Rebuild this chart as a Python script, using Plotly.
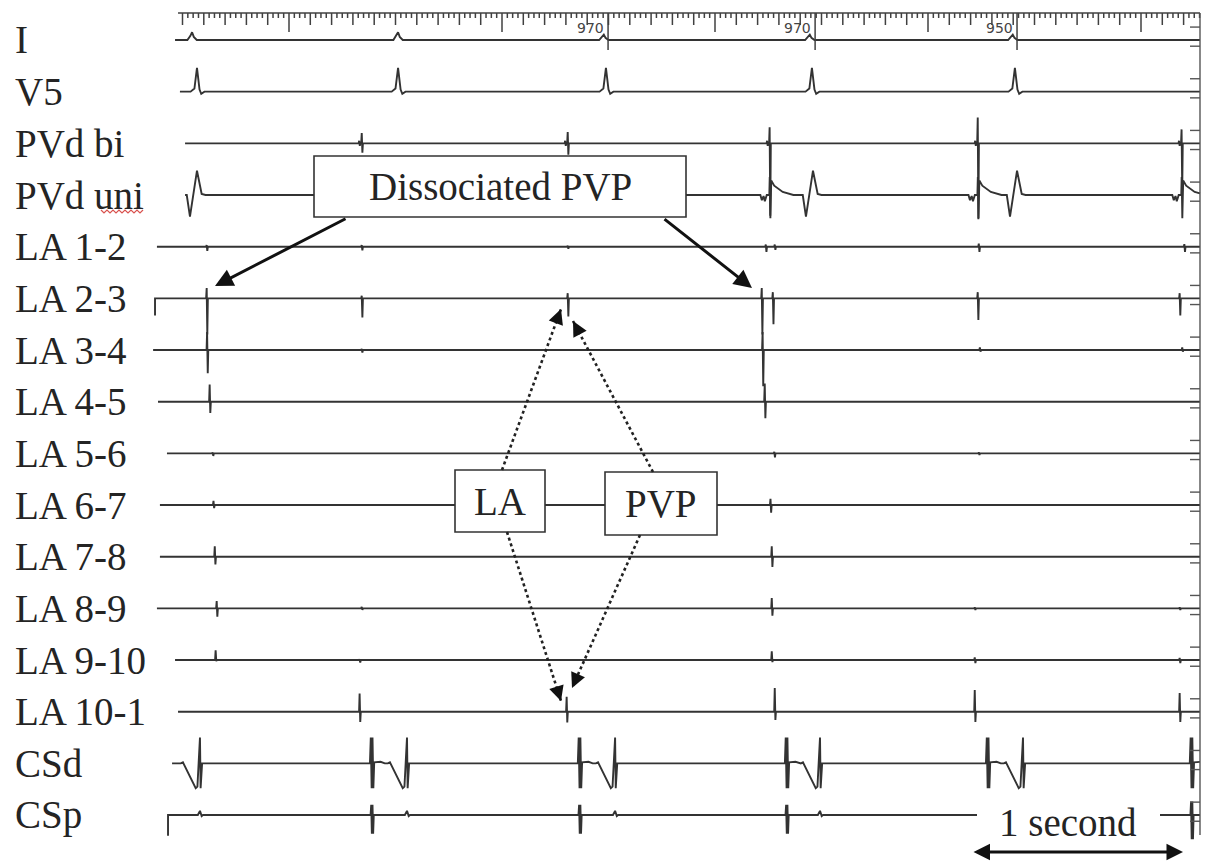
import numpy as np
import plotly.graph_objects as go

W, H = 1207, 864
PX0, PX_PER_MS = 76.0, 0.213          # horizontal scale: pixel = PX0 + PX_PER_MS * t(ms)
ROW_PX, ROW0_PX = 51.67, 40.0         # vertical scale: one channel row = 51.67 px

# ---------------- data ----------------
CHANNELS = ["I", "V5", "PVd bi", "PVd uni", "LA 1-2", "LA 2-3", "LA 3-4", "LA 4-5",
            "LA 5-6", "LA 6-7", "LA 7-8", "LA 8-9", "LA 9-10", "LA 10-1", "CSd", "CSp"]
TRACE_START_MS = [465, 488, 512, 512, 380, 371, 362, 385, 427, 394, 394, 380, 465, 479, 451, 432]
START_HOOK = [0, 0, 0, 0, 0, -0.33, 0, 0, 0, 0, 0, 0, 0, 0, 0, -0.4]
TRACE_END_MS = 5277

# waveform shapes: (ms offset, amplitude in channel rows)
SHAPES = {
    "bumpI": [(-22, 0), (-8, 0.08), (0, 0.15), (8, 0.06), (22, 0)],
    "qrs": [(-30, 0), (-12, 0.06), (0, 0.46), (12, 0.04), (20, -0.04), (35, 0)],
    "vuni": [(-48, 0), (-33, -0.42), (0, 0.47), (22, 0.02), (40, 0)],
    "pvp": [(-45, 0), (-38, -0.1), (-30, -0.02), (-24, -0.12), (-15, 0), (-3, 0), (-1, 0.35),
            (2, -0.45), (6, 0.28), (20, 0.18), (60, 0.06), (110, 0)],
    "csv": [(-90, 0), (-80, 0.02), (-20, -0.48), (-12, -0.45), (0, 0.5), (3, -0.48), (10, 0)],
    "csbig": [(-10, 0), (-6, 0.5), (-2, -0.48), (2, 0.5), (6, -0.48), (10, 0.02), (40, 0.03), (60, 0)],
    "cspbig": [(-7, 0), (-4, 0.2), (-1, -0.36), (2, 0.2), (5, -0.36), (8, 0)],
    "bump": [(-10, 0), (0, 0.08), (8, -0.02), (14, 0)],
}

# events per channel: (time ms, kind, a, b); "sp" = spike up a / down b, else shape scaled by a
EV_I = [(545, "bumpI", 1.0, 0), (1512, "bumpI", 1.0, 0), (2478, "bumpI", 0.7, 0),
        (3445, "bumpI", 0.7, 0), (4398, "bumpI", 0.7, 0)]
EV_V5 = [(568, "qrs", 1, 0), (1512, "qrs", 1, 0), (2488, "qrs", 1, 0), (3455, "qrs", 1, 0), (4408, "qrs", 1, 0)]
EV_PVD_BI = [(1331, "sp", 0.05, 0.05), (1343, "sp", 0.2, 0.18), (2298, "sp", 0.05, 0.05), (2310, "sp", 0.22, 0.22),
             (3246, "sp", 0.05, 0.05), (3258, "sp", 0.31, 1.4), (4223, "sp", 0.05, 0.05), (4235, "sp", 0.5, 1.47),
             (5180, "sp", 0.05, 0.05), (5192, "sp", 0.27, 0.9)]
EV_PVD_UNI = [(568, "vuni", 1, 0), (1512, "vuni", 1, 0), (2488, "vuni", 1, 0), (3460, "vuni", 1, 0),
              (4418, "vuni", 1, 0), (3258, "pvp", 1, 0), (4235, "pvp", 1, 0), (5192, "pvp", 1, 0)]
EV_LA12 = [(615, "sp", 0.03, 0.08), (1343, "sp", 0.03, 0.07), (2310, "sp", 0.02, 0.04), (3240, "sp", 0.04, 0.1),
           (3282, "sp", 0.04, 0.06), (4240, "sp", 0.06, 0.1), (5205, "sp", 0.05, 0.1)]
EV_LA23 = [(615, "sp", 0.2, 0.7), (1343, "sp", 0.05, 0.37), (2310, "sp", 0.1, 0.35), (3221, "sp", 0.2, 0.7),
           (3273, "sp", 0.12, 0.5), (4235, "sp", 0.12, 0.42), (5183, "sp", 0.1, 0.33)]
EV_LA34 = [(617, "sp", 0.35, 0.45), (1343, "sp", 0.02, 0.05), (3225, "sp", 0.35, 0.7),
           (4245, "sp", 0.05, 0.03), (5195, "sp", 0.05, 0.03)]
EV_LA45 = [(629, "sp", 0.33, 0.22), (3235, "sp", 0.35, 0.32)]
EV_LA56 = [(643, "sp", 0.02, 0.05), (3280, "sp", 0.03, 0.08), (4240, "sp", 0.02, 0.03)]
EV_LA67 = [(647, "sp", 0.08, 0.06), (3262, "sp", 0.12, 0.15)]
EV_LA78 = [(653, "sp", 0.2, 0.15), (3268, "sp", 0.2, 0.2)]
EV_LA89 = [(662, "sp", 0.14, 0.16), (1343, "sp", 0.03, 0.03), (3268, "sp", 0.2, 0.14),
           (4221, "sp", 0.02, 0.03), (5183, "sp", 0.02, 0.03)]
EV_LA910 = [(657, "sp", 0.19, 0.02), (1333, "sp", 0.01, 0.05), (3268, "sp", 0.17, 0.04),
            (4221, "sp", 0.05, 0.06), (5183, "sp", 0.04, 0.06)]
EV_LA101 = [(1333, "sp", 0.35, 0.2), (2305, "sp", 0.29, 0.21), (3282, "sp", 0.46, 0.16),
            (4221, "sp", 0.42, 0.2), (5183, "sp", 0.36, 0.2)]
EV_CSD = [(582, "csv", 1, 0), (1554, "csv", 1, 0), (2531, "csv", 1, 0), (3493, "csv", 1, 0), (4446, "csv", 1, 0),
          (1390, "csbig", 1, 0), (2366, "csbig", 1, 0), (3338, "csbig", 1, 0), (4282, "csbig", 1, 0),
          (5239, "csbig", 1, 0)]
EV_CSP = [(582, "bump", 1, 0), (1554, "bump", 1, 0), (2531, "bump", 1, 0), (3493, "bump", 1, 0), (4446, "bump", 1, 0),
          (1390, "cspbig", 1, 0), (2366, "cspbig", 1, 0), (3338, "cspbig", 1, 0), (4282, "cspbig", 1, 0),
          (5239, "cspbig", 1.3, 0)]
EVENTS = [EV_I, EV_V5, EV_PVD_BI, EV_PVD_UNI, EV_LA12, EV_LA23, EV_LA34, EV_LA45, EV_LA56,
          EV_LA67, EV_LA78, EV_LA89, EV_LA910, EV_LA101, EV_CSD, EV_CSP]

# ruler / markers
RR_MARKER_MS = [2498, 3470, 4418]
RR_LABELS = ["970", "970", "950"]
RULER_START_MS = 479

TRACE_COLOR = "#333333"
TEXT_COLOR = "#242424"
SERIF = "Liberation Serif"
LABEL_SIZE = 39


def ms_per_px(p):
    return p / PX_PER_MS


def build(k):
    t0, t1 = TRACE_START_MS[k], TRACE_END_MS
    pieces = []
    for (t, kind, a, b) in EVENTS[k]:
        if kind == "sp":
            shp = [(-4, 0), (-1.5, a), (1.5, -b), (4, 0)]
        else:
            shp = [(dt, v * a) for dt, v in SHAPES[kind]]
        pieces.append((np.array([t + dt for dt, _ in shp], float), np.array([v for _, v in shp], float)))
    ts = {float(t0), float(t1)}
    for tt, _ in pieces:
        ts.update(tt[(tt > t0) & (tt < t1)].tolist())
    ts = np.array(sorted(ts))
    vals = np.zeros_like(ts)
    for tt, vv in pieces:
        vals += np.interp(ts, tt, vv, left=0, right=0)
    x = np.concatenate([[t0], ts])
    y = np.concatenate([[START_HOOK[k]], vals]) - k
    return x, y


def ydata(py):  # pixel row -> data y
    return (ROW0_PX - py) / ROW_PX


def PX(x):
    return x / W


def PY(y):
    return 1 - y / H


fig = go.Figure()
for k in range(len(CHANNELS)):
    x, y = build(k)
    fig.add_trace(go.Scatter(x=x, y=y, mode="lines", line=dict(color=TRACE_COLOR, width=1.9),
                             hoverinfo="skip", showlegend=False))

# ruler
y_r = ydata(13)
rx, ry = [RULER_START_MS, TRACE_END_MS, None], [y_r, y_r, None]
for t in np.arange(500, TRACE_END_MS, 25):
    if t % 1000 == 0:
        L = 19
    elif t % 100 == 0:
        L = 12
    else:
        L = 5
    rx += [t, t, None]
    ry += [y_r, y_r - L / ROW_PX, None]
for t in RR_MARKER_MS:
    rx += [t, t, None]
    ry += [y_r, ydata(50), None]
fig.add_trace(go.Scatter(x=rx, y=ry, mode="lines", line=dict(color="#404040", width=1.5),
                         hoverinfo="skip", showlegend=False))

# right calibration border
bx, by = [TRACE_END_MS, TRACE_END_MS, None], [y_r, ydata(835), None]
for k in range(len(CHANNELS)):
    for off in (0.25, -0.12):
        bx += [TRACE_END_MS - ms_per_px(10), TRACE_END_MS, None]
        by += [-k + off, -k + off, None]
fig.add_trace(go.Scatter(x=bx, y=by, mode="lines", line=dict(color="#555", width=1.4),
                         hoverinfo="skip", showlegend=False))

annotations = []
for k, name in enumerate(CHANNELS):
    annotations.append(dict(x=PX(13), y=PY(ROW0_PX + k * ROW_PX), xref="paper", yref="paper",
                            text=name, showarrow=False, xanchor="left", yanchor="middle",
                            font=dict(family=SERIF, size=LABEL_SIZE, color=TEXT_COLOR)))
for t, lab in zip(RR_MARKER_MS, RR_LABELS):
    annotations.append(dict(x=t - ms_per_px(18), y=ydata(28), xref="x", yref="y", text=lab,
                            showarrow=False, xanchor="center", yanchor="middle",
                            font=dict(family="DejaVu Sans", size=14, color="#444")))

shapes = []
boxes = [((314, 156, 686, 217), "Dissociated PVP"), ((455, 470, 545, 532), "LA"), ((605, 472, 717, 535), "PVP")]
for (x0, y0, x1, y1), txt in boxes:
    shapes.append(dict(type="rect", xref="paper", yref="paper", x0=PX(x0), x1=PX(x1), y0=PY(y1), y1=PY(y0),
                       line=dict(color="#333", width=1.6), fillcolor="white", layer="above"))
    annotations.append(dict(x=PX((x0 + x1) / 2), y=PY((y0 + y1) / 2), xref="paper", yref="paper", text=txt,
                            showarrow=False, xanchor="center", yanchor="middle",
                            font=dict(family=SERIF, size=LABEL_SIZE, color=TEXT_COLOR)))
# "1 second" label
shapes.append(dict(type="rect", xref="paper", yref="paper", x0=PX(977), x1=PX(1160), y0=PY(847), y1=PY(798),
                   line=dict(width=0), fillcolor="white", layer="above"))
annotations.append(dict(x=PX(1068), y=PY(822), xref="paper", yref="paper", text="1 second", showarrow=False,
                        xanchor="center", yanchor="middle",
                        font=dict(family=SERIF, size=LABEL_SIZE, color=TEXT_COLOR)))
annotations.append(dict(x=PX(1183), y=PY(852), xref="paper", yref="paper", text="", showarrow=True,
                        ax=-211, ay=0, arrowside="end+start", arrowhead=2, arrowwidth=3, arrowsize=1.1,
                        arrowcolor="#111"))

# solid arrows from Dissociated PVP
for (tx, ty), (hx, hy) in [((347, 218), (215, 286)), ((663, 218), (752, 288))]:
    annotations.append(dict(x=PX(hx), y=PY(hy), xref="paper", yref="paper", text="", showarrow=True,
                            ax=tx - hx, ay=ty - hy, arrowhead=2, arrowwidth=3, arrowsize=1.2, arrowcolor="#111"))

# dotted arrows
for (tx, ty), (hx, hy) in [((502, 470), (561, 309)), ((507, 532), (561, 701)),
                           ((653, 472), (573, 321)), ((640, 535), (572, 688))]:
    shapes.append(dict(type="line", xref="paper", yref="paper", x0=PX(tx), y0=PY(ty), x1=PX(hx), y1=PY(hy),
                       line=dict(color="#222", width=2.6, dash="dot"), layer="above"))
    d = np.hypot(tx - hx, ty - hy)
    annotations.append(dict(x=PX(hx), y=PY(hy), xref="paper", yref="paper", text="", showarrow=True,
                            ax=(tx - hx) / d * 14, ay=(ty - hy) / d * 14, arrowhead=2, arrowwidth=2.5,
                            arrowsize=1.2, arrowcolor="#111"))

# spell-check squiggle under "uni"
zig = "M " + " L ".join(f"{PX(101 + 3 * i):.5f},{PY(210 if i % 2 == 0 else 213):.5f}" for i in range(15))
shapes.append(dict(type="path", xref="paper", yref="paper", path=zig, line=dict(color="#d9534f", width=1.2),
                   layer="above"))

fig.update_layout(
    width=W, height=H, margin=dict(l=0, r=0, t=0, b=0),
    paper_bgcolor="white", plot_bgcolor="white", showlegend=False,
    xaxis=dict(range=[ms_per_px(0 - PX0), ms_per_px(W - PX0)], visible=False, fixedrange=True),
    yaxis=dict(range=[ydata(H), ydata(0)], visible=False, fixedrange=True),
    shapes=shapes, annotations=annotations,
)
fig.write_html("out.html", config={"displayModeBar": False},
               post_script="document.body.style.margin='0';document.body.style.padding='0';")
